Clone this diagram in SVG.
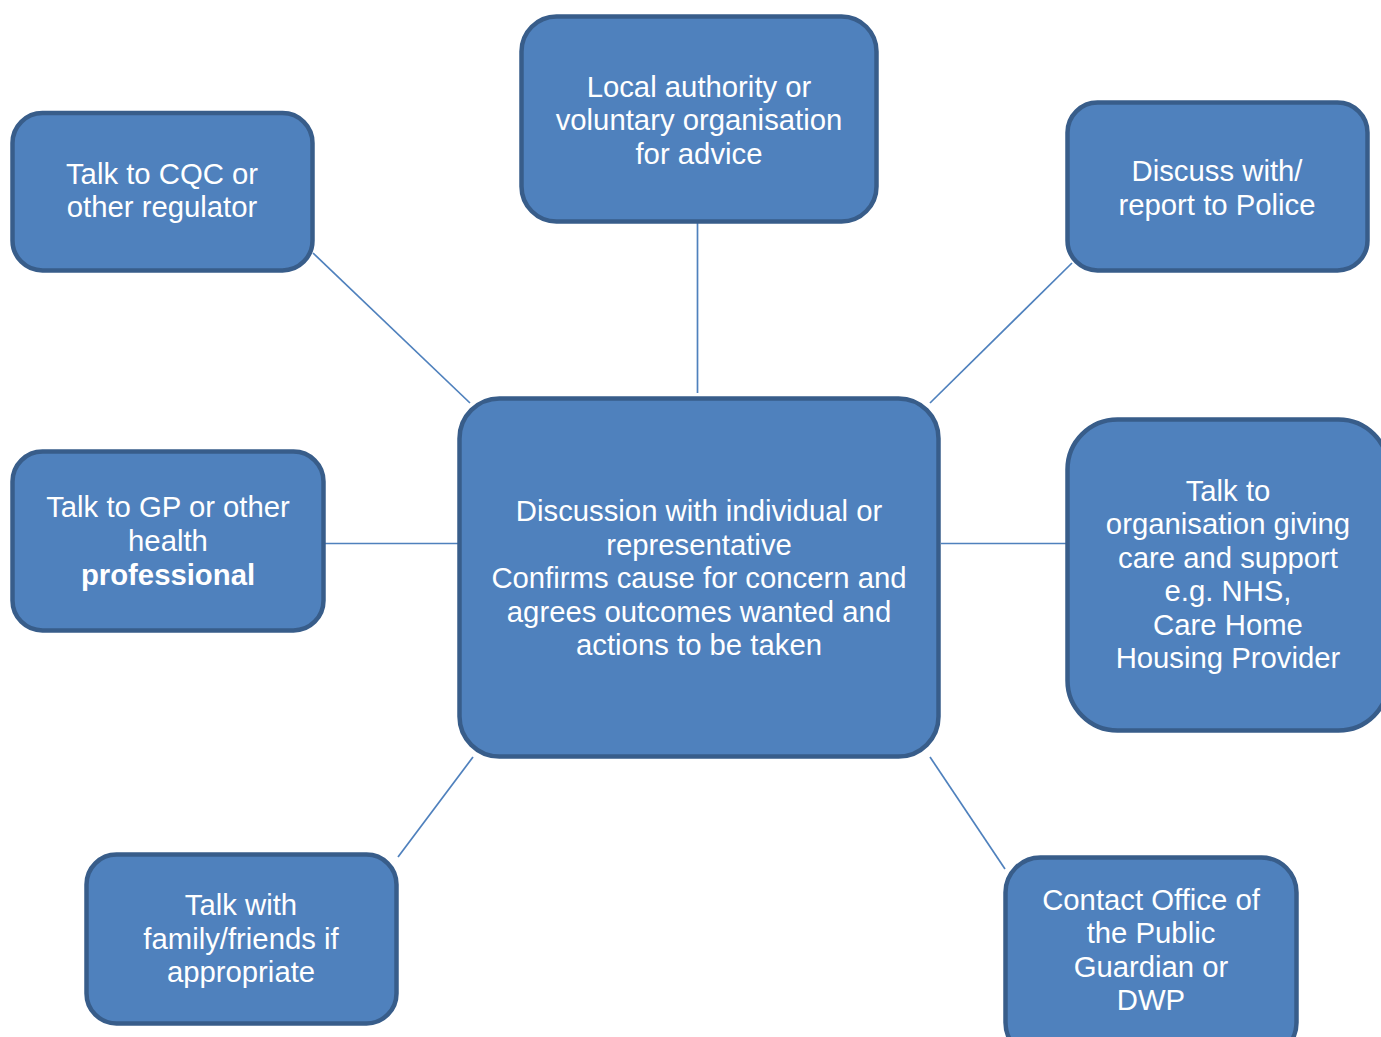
<svg xmlns="http://www.w3.org/2000/svg" width="1381" height="1037" viewBox="0 0 1381 1037">
<style>
.box{fill:#4F81BD;stroke:#385D8A;stroke-width:4.5}
.t{font-family:"Liberation Sans",Arial,sans-serif;font-size:29.3px;fill:#fff;text-anchor:middle}
.b{font-weight:bold}
.c{stroke:#4F81BD;stroke-width:1.7;fill:none}
</style>
<rect width="1381" height="1037" fill="#fff"/>
<g id="connectors">
<line class="c" x1="313" y1="253" x2="470" y2="403"/>
<line class="c" x1="697.5" y1="223" x2="697.5" y2="393"/>
<line class="c" x1="1072" y1="263" x2="930" y2="403"/>
<line class="c" x1="325" y1="543.5" x2="458" y2="543.5"/>
<line class="c" x1="941" y1="543.5" x2="1066" y2="543.5"/>
<line class="c" x1="398" y1="857" x2="473" y2="757"/>
<line class="c" x1="930" y1="757" x2="1005" y2="869"/>
</g>
<g id="cqc">
<rect class="box" x="12.5" y="113" width="300" height="157.5" rx="30"/>
<text class="t" x="162" y="183.5">Talk to CQC or</text>
<text class="t" x="162" y="217">other regulator</text>
</g>
<g id="local-authority">
<rect class="box" x="521.5" y="16.5" width="355" height="205" rx="35"/>
<text class="t" x="699" y="96.5">Local authority or</text>
<text class="t" x="699" y="130">voluntary organisation</text>
<text class="t" x="699" y="163.5">for advice</text>
</g>
<g id="police">
<rect class="box" x="1067.5" y="102.5" width="300" height="168" rx="30"/>
<text class="t" x="1217" y="181">Discuss with/</text>
<text class="t" x="1217" y="214.5">report to Police</text>
</g>
<g id="center">
<rect class="box" x="459.5" y="398.5" width="479" height="358" rx="40"/>
<text class="t" x="699" y="521">Discussion with individual or</text>
<text class="t" x="699" y="554.5">representative</text>
<text class="t" x="699" y="588">Confirms cause for concern and</text>
<text class="t" x="699" y="621.5">agrees outcomes wanted and</text>
<text class="t" x="699" y="655">actions to be taken</text>
</g>
<g id="gp">
<rect class="box" x="12.5" y="451.5" width="311" height="179" rx="30"/>
<text class="t" x="168" y="517">Talk to GP or other</text>
<text class="t" x="168" y="550.5">health</text>
<text class="t b" x="168" y="585">professional</text>
</g>
<g id="organisation">
<rect class="box" x="1067.5" y="419.5" width="321" height="311" rx="50"/>
<text class="t" x="1228" y="501">Talk to</text>
<text class="t" x="1228" y="534">organisation giving</text>
<text class="t" x="1228" y="567.5">care and support</text>
<text class="t" x="1228" y="601">e.g. NHS,</text>
<text class="t" x="1228" y="634.5">Care Home</text>
<text class="t" x="1228" y="668">Housing Provider</text>
</g>
<g id="family">
<rect class="box" x="86.5" y="854.5" width="310" height="169" rx="30"/>
<text class="t" x="241" y="915">Talk with</text>
<text class="t" x="241" y="948.5">family/friends if</text>
<text class="t" x="241" y="982">appropriate</text>
</g>
<g id="opg">
<rect class="box" x="1005.5" y="857.5" width="291" height="200" rx="35"/>
<text class="t" x="1151" y="909.5">Contact Office of</text>
<text class="t" x="1151" y="943">the Public</text>
<text class="t" x="1151" y="976.5">Guardian or</text>
<text class="t" x="1151" y="1010">DWP</text>
</g>
</svg>
